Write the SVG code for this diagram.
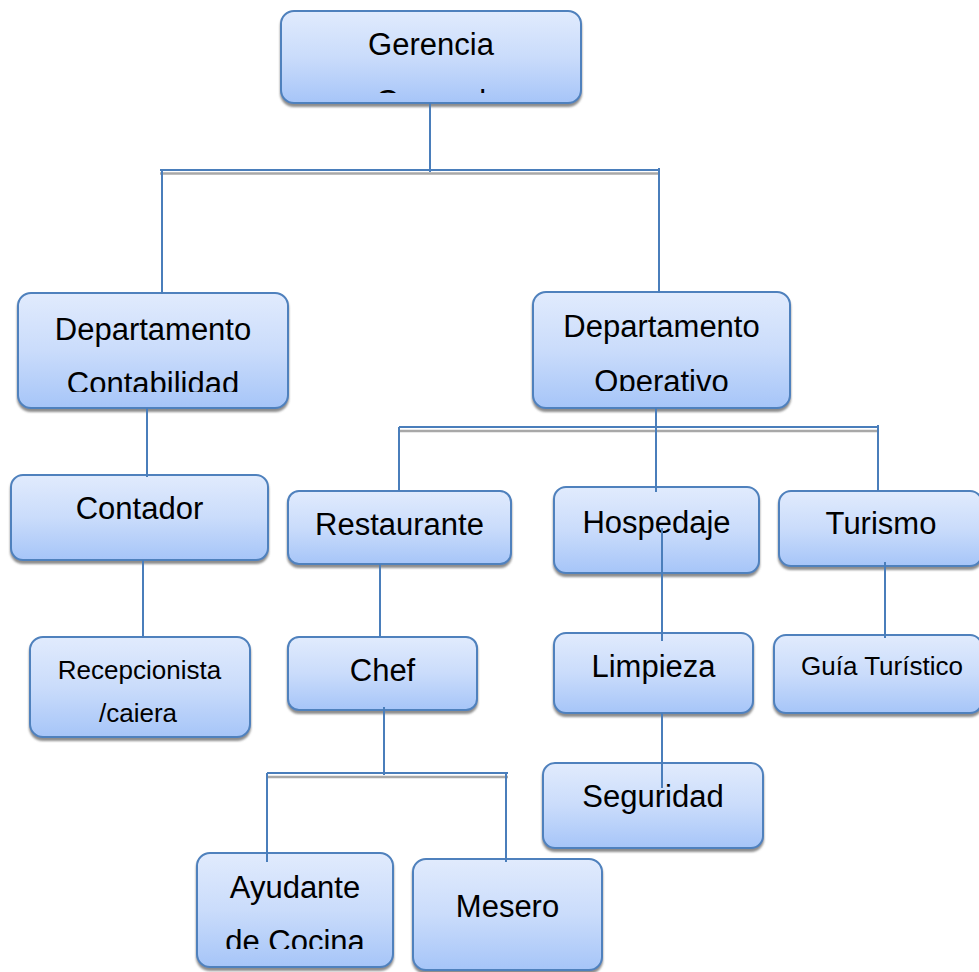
<svg xmlns="http://www.w3.org/2000/svg" width="979" height="972" viewBox="0 0 979 972">
<style>
.box{fill:url(#g);stroke:#4f81bd;stroke-width:2;filter:url(#ds)}
.t{font-family:"Liberation Sans",Arial,sans-serif;font-size:31px;fill:#000;text-anchor:middle}
.s{font-size:26px}
.c{stroke:#4a7ebb;stroke-width:2;fill:none}
.sh{stroke:#a8a8a8;stroke-width:2.5;fill:none}
</style>
<defs>
<linearGradient id="g" x1="0" y1="0" x2="0" y2="1">
<stop offset="0" stop-color="#e1ebfd"/>
<stop offset="0.5" stop-color="#cadcfb"/>
<stop offset="1" stop-color="#a6c5f8"/>
</linearGradient>
<filter id="ds" x="-10%" y="-10%" width="120%" height="130%">
<feDropShadow dx="0" dy="3" stdDeviation="1" flood-color="#6f6f6f" flood-opacity="0.8"/>
</filter>
<clipPath id="cg"><rect x="281" y="11" width="300" height="82"/></clipPath>
<clipPath id="cc"><rect x="18" y="293" width="270" height="99"/></clipPath>
<clipPath id="co"><rect x="533" y="292" width="257" height="99"/></clipPath>
<clipPath id="ca"><rect x="197" y="853" width="196" height="96"/></clipPath>
</defs>
<rect width="979" height="972" fill="#fff"/>

<g id="gerencia">
<rect class="box" x="281" y="11" width="300" height="92" rx="13"/>
<g clip-path="url(#cg)"><text class="t" x="431" y="55">Gerencia</text><text class="t" x="431" y="112">General</text></g>
</g>
<g id="dep-contabilidad">
<rect class="box" x="18" y="293" width="270" height="115" rx="13"/>
<g clip-path="url(#cc)"><text class="t" x="153" y="340">Departamento</text><text class="t" x="153" y="394">Contabilidad</text></g>
</g>
<g id="dep-operativo">
<rect class="box" x="533" y="292" width="257" height="116" rx="13"/>
<g clip-path="url(#co)"><text class="t" x="661.5" y="337">Departamento</text><text class="t" x="661.5" y="392">Operativo</text></g>
</g>
<g id="contador">
<rect class="box" x="11" y="475" width="257" height="85" rx="12"/>
<text class="t" x="139.5" y="519">Contador</text>
</g>
<g id="recepcionista">
<rect class="box" x="30" y="637" width="220" height="100" rx="13"/>
<text class="t s" x="139.5" y="679">Recepcionista</text>
<text class="t s" x="138" y="722">/caiera</text>
</g>
<g id="restaurante">
<rect class="box" x="288" y="491" width="223" height="73" rx="11"/>
<text class="t" x="399.5" y="535">Restaurante</text>
</g>
<g id="chef">
<rect class="box" x="288" y="637" width="189" height="73" rx="11"/>
<text class="t" x="382.5" y="681">Chef</text>
</g>
<g id="hospedaje">
<rect class="box" x="554" y="487" width="205" height="86" rx="12"/>
<text class="t" x="656.5" y="533">Hospedaje</text>
</g>
<g id="turismo">
<rect class="box" x="779" y="491" width="203" height="75" rx="12"/>
<text class="t" x="881" y="534">Turismo</text>
</g>
<g id="limpieza">
<rect class="box" x="554" y="633" width="199" height="80" rx="12"/>
<text class="t" x="653.5" y="677">Limpieza</text>
</g>
<g id="guia">
<rect class="box" x="774" y="635" width="208" height="78" rx="12"/>
<text class="t s" x="882" y="675">Guía Turístico</text>
</g>
<g id="seguridad">
<rect class="box" x="543" y="763" width="220" height="85" rx="12"/>
<text class="t" x="653" y="807">Seguridad</text>
</g>
<g id="ayudante">
<rect class="box" x="197" y="853" width="196" height="114" rx="13"/>
<g clip-path="url(#ca)"><text class="t" x="295" y="898">Ayudante</text><text class="t" x="295" y="952">de Cocina</text></g>
</g>
<g id="mesero">
<rect class="box" x="413" y="859" width="189" height="111" rx="13"/>
<text class="t" x="507.5" y="917">Mesero</text>
</g>

<g id="connectors">
<line class="sh" x1="160" y1="173.5" x2="658" y2="173.5"/>
<line class="c" x1="160" y1="170" x2="658" y2="170"/>
<line class="c" x1="430" y1="103" x2="430" y2="172"/>
<line class="c" x1="162" y1="170" x2="162" y2="294"/>
<line class="c" x1="659" y1="168" x2="659" y2="293"/>
<line class="c" x1="147" y1="408" x2="147" y2="477"/>
<line class="c" x1="143" y1="560" x2="143" y2="638"/>
<line class="sh" x1="399" y1="431" x2="878" y2="431"/>
<line class="c" x1="399" y1="427" x2="878" y2="427"/>
<line class="c" x1="656" y1="408" x2="656" y2="492"/>
<line class="c" x1="399" y1="427" x2="399" y2="491"/>
<line class="c" x1="878" y1="425" x2="878" y2="491"/>
<line class="c" x1="380" y1="564" x2="380" y2="637"/>
<line class="sh" x1="267" y1="777" x2="508" y2="777"/>
<line class="c" x1="267" y1="773" x2="508" y2="773"/>
<line class="c" x1="384" y1="707" x2="384" y2="775"/>
<line class="c" x1="267" y1="773" x2="267" y2="862"/>
<line class="c" x1="506" y1="773" x2="506" y2="862"/>
<line class="c" x1="662" y1="528" x2="662" y2="641"/>
<line class="c" x1="662" y1="713" x2="662" y2="788"/>
<line class="c" x1="885" y1="562" x2="885" y2="638"/>
</g>
</svg>
